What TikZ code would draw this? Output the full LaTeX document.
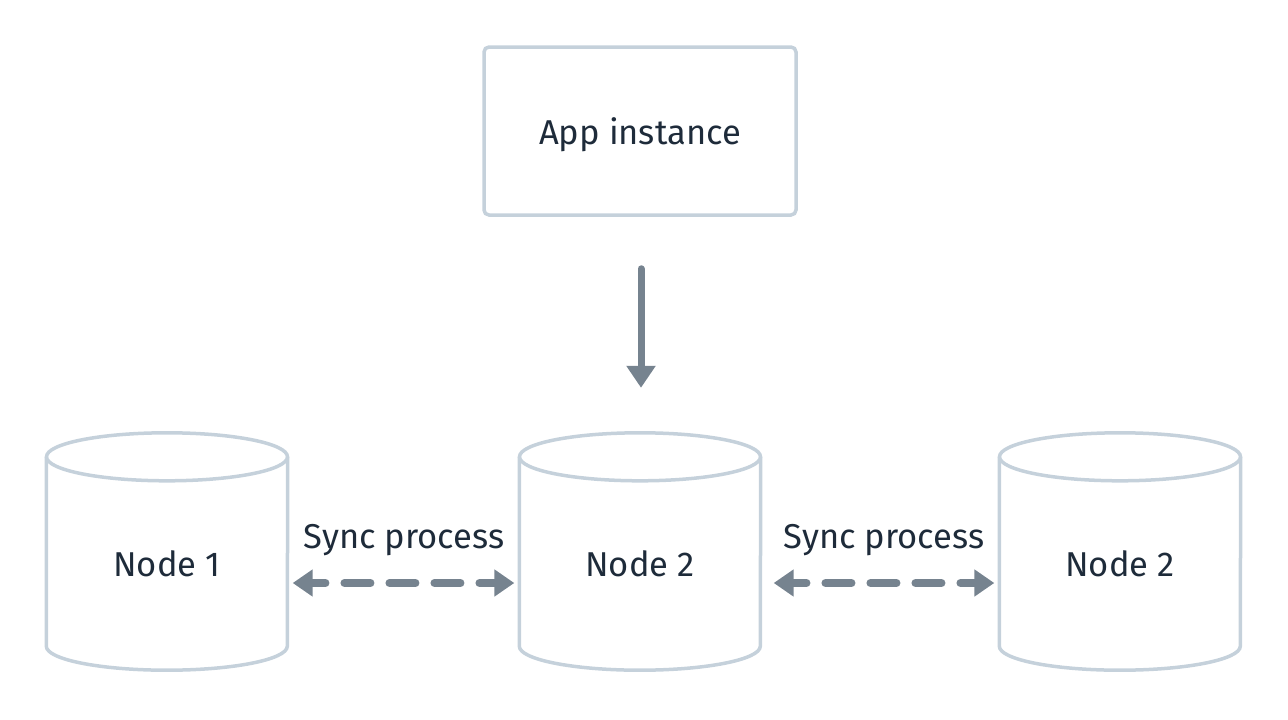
\documentclass[tikz,border=0pt]{standalone}
\usepackage{fontspec}
\setmainfont{Fira Sans}
\usetikzlibrary{arrows.meta}
\definecolor{SyncLine}{HTML}{C5D1DB}
\definecolor{SyncArrow}{HTML}{76838F}
\definecolor{SyncText}{HTML}{1E2B3A}

\begin{document}
\begin{tikzpicture}[x=1pt,y=-1pt,
    txt/.style={font=\fontsize{34.5}{40}\selectfont,text=SyncText},
    appbox/.style={txt,draw=SyncLine,line width=3.5pt,rounded corners=5pt,
      minimum width=312pt,minimum height=168pt,text depth=0pt},
    cylbody/.style={txt,minimum width=241pt,minimum height=165pt,inner sep=0pt,text depth=0pt},
    cylline/.style={draw=SyncLine,line width=3.5pt},
    flow/.style={SyncArrow,line width=7pt,line cap=round,-{Triangle[length=22pt,width=28pt]}},
    sync/.style={SyncArrow,line width=8pt,line cap=round,dash pattern=on 26pt off 19pt,dash phase=12pt,
      {Triangle[length=20pt,width=26pt]}-{Triangle[length=20pt,width=26pt]}}]
    \useasboundingbox (0,0) rectangle (1288,720);
    \node[appbox] (app) at (640,131) {App instance};
    % the three cylinders
    \foreach \x/\n/\t in {167/n1/Node 1,640/n2/Node 2,1120/n3/Node 2}{
      \node[cylbody] (\n) at (\x,563.5) {\t};
      \draw[cylline] ([yshift=24pt]\n.north west) -- (\n.south west)
        arc[start angle=180,end angle=0,x radius=120.5,y radius=24] -- ([yshift=24pt]\n.north east);
      \draw[cylline] ([yshift=24pt]\n.north) ellipse[x radius=120.5,y radius=24];
    }
    \draw[flow] ([shift={(1pt,-52pt)}]app.south) -- ([shift={(1pt,93pt)}]n2.north);
    \node[txt,anchor=base] (s1) at (404,548) {Sync process};
    \node[txt,anchor=base] (s2) at (884,548) {Sync process};
    \draw[sync] ([shift={(5pt,-19.5pt)}]n1.east) -- ([shift={(-5pt,-19.5pt)}]n2.west);
    \draw[sync] ([shift={(13pt,-19.5pt)}]n2.east) -- ([shift={(-5pt,-19.5pt)}]n3.west);
\end{tikzpicture}
\end{document}
